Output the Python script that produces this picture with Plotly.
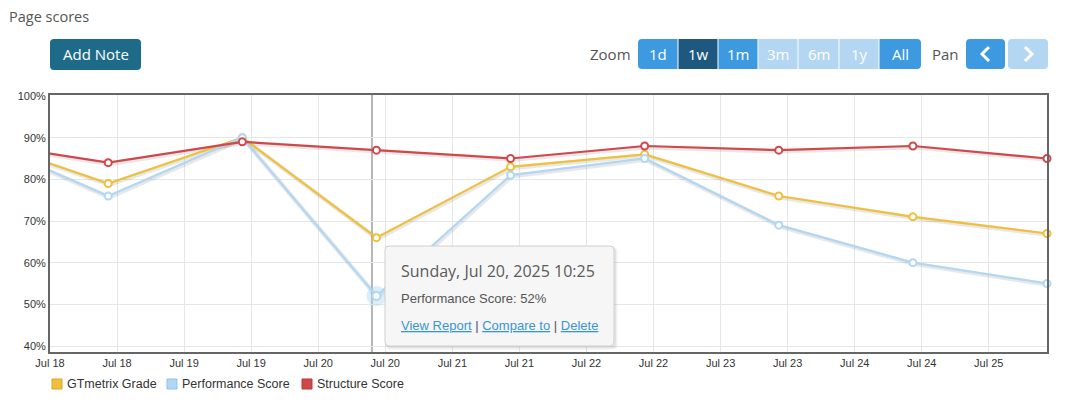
import plotly.graph_objects as go
import pandas as pd

# ---------------- data ----------------
times = ["2025-07-17 10:25", "2025-07-18 10:25", "2025-07-19 10:25", "2025-07-20 10:25",
         "2025-07-21 10:25", "2025-07-22 10:25", "2025-07-23 10:25", "2025-07-24 10:25",
         "2025-07-25 10:25"]
gtmetrix_grade = [90, 79, 90, 66, 83, 86, 76, 71, 67]
performance_score = [90, 76, 90, 52, 81, 85, 69, 60, 55]
structure_score = [89, 84, 89, 87, 85, 88, 87, 88, 85]

tick_times = ["2025-07-18 00:00", "2025-07-18 12:00", "2025-07-19 00:00", "2025-07-19 12:00",
              "2025-07-20 00:00", "2025-07-20 12:00", "2025-07-21 00:00", "2025-07-21 12:00",
              "2025-07-22 00:00", "2025-07-22 12:00", "2025-07-23 00:00", "2025-07-23 12:00",
              "2025-07-24 00:00", "2025-07-24 12:00", "2025-07-25 00:00"]
tick_labels = ["Jul 18", "Jul 18", "Jul 19", "Jul 19", "Jul 20", "Jul 20", "Jul 21", "Jul 21",
               "Jul 22", "Jul 22", "Jul 23", "Jul 23", "Jul 24", "Jul 24", "Jul 25"]
y_ticks = [40, 50, 60, 70, 80, 90, 100]
y_tick_labels = ["40%", "50%", "60%", "70%", "80%", "90%", "100%"]

series_names = ["GTmetrix Grade", "Performance Score", "Structure Score"]
hover_index = 3  # Jul 20 point of Performance Score

# ---------------- styles ----------------
C_YEL = "#f0bf3c"
C_BLU = "#b1d7f4"
C_RED = "#d2484a"
colors = [C_YEL, C_BLU, C_RED]
series = [gtmetrix_grade, performance_score, structure_score]

W, H = 1075, 406
PL, PR, PT, PB = 50, 1047, 95, 352
x_range = [pd.Timestamp("2025-07-18 00:00"), pd.Timestamp("2025-07-25 10:25")]
y_range = [38.56, 100.24]
px_per_hour = (PR - PL) / ((x_range[1] - x_range[0]).total_seconds() / 3600)
px_per_unit = (PB - PT) / (y_range[1] - y_range[0])
shift = pd.Timedelta(hours=1.0 / px_per_hour)
x2_range = [x_range[0] - shift, x_range[1] - shift]
y2_range = [y_range[0] + 1.2 / px_per_unit, y_range[1] + 1.2 / px_per_unit]
crosshair_time = pd.Timestamp(times[hover_index]) - pd.Timedelta(minutes=48)

ARIAL = "Arial, Liberation Sans, sans-serif"
OPEN = "Open Sans, sans-serif"


def px(x):
    return (x - PL) / (PR - PL)


def py(y):
    return (PB - y) / (PB - PT)


def rrect(x0, y0, x1, y1, r, tl=True, tr=True, br=True, bl=True):
    a, b, c, d = (r if tl else 0), (r if tr else 0), (r if br else 0), (r if bl else 0)

    def P(x, y):
        return f"{px(x):.5f},{py(y):.5f}"
    s = f"M{P(x0 + a, y0)} L{P(x1 - b, y0)} Q{P(x1, y0)} {P(x1, y0 + b)} "
    s += f"L{P(x1, y1 - c)} Q{P(x1, y1)} {P(x1 - c, y1)} "
    s += f"L{P(x0 + d, y1)} Q{P(x0, y1)} {P(x0, y1 - d)} "
    s += f"L{P(x0, y0 + a)} Q{P(x0, y0)} {P(x0 + a, y0)} Z"
    return s


fig = go.Figure()

# shadows (shifted overlay axes)
for vals in series:
    fig.add_trace(go.Scatter(x=times, y=vals, mode="lines", xaxis="x2", yaxis="y2",
                             line=dict(color="rgba(0,0,0,0.09)", width=4.5),
                             hoverinfo="skip", showlegend=False))

# main series
for name, vals, col in zip(series_names, series, colors):
    fig.add_trace(go.Scatter(x=times, y=vals, mode="lines+markers", name=name,
                             xaxis="x3", yaxis="y3", cliponaxis=False,
                             line=dict(color=col, width=2.2),
                             marker=dict(size=7, color="white", line=dict(color=col, width=2)),
                             showlegend=False))

# hover halo on highlighted point
fig.add_trace(go.Scatter(x=[times[hover_index]], y=[performance_score[hover_index]],
                         mode="markers", xaxis="x3", yaxis="y3", cliponaxis=False,
                         marker=dict(size=20, color="rgba(177,215,244,0.45)"),
                         hoverinfo="skip", showlegend=False))
fig.add_trace(go.Scatter(x=[times[hover_index]], y=[performance_score[hover_index]],
                         mode="markers", xaxis="x3", yaxis="y3", cliponaxis=False,
                         marker=dict(size=8, color="white", line=dict(color=C_BLU, width=2)),
                         hoverinfo="skip", showlegend=False))

shapes = []
annotations = []

# crosshair
shapes.append(dict(type="line", xref="x", yref="paper", x0=crosshair_time, x1=crosshair_time,
                   y0=0, y1=1, line=dict(color="#b5b5b5", width=2), layer="below"))

# title
annotations.append(dict(text="Page scores", xref="paper", yref="paper", x=px(7), y=py(16),
                        xanchor="left", yanchor="middle", showarrow=False,
                        font=dict(family=OPEN, size=14.5, color="#555555")))

# Add Note button
shapes.append(dict(type="path", xref="paper", yref="paper", path=rrect(50, 39, 141, 70, 4),
                   fillcolor="#1d6a89", line=dict(width=0)))
annotations.append(dict(text="Add Note", xref="paper", yref="paper", x=px(95.5), y=py(54.5),
                        xanchor="center", yanchor="middle", showarrow=False,
                        font=dict(family=OPEN, size=15, color="white")))

# Zoom buttons
annotations.append(dict(text="Zoom", xref="paper", yref="paper", x=px(633), y=py(54.5),
                        xanchor="right", yanchor="middle", showarrow=False,
                        font=dict(family=OPEN, size=15, color="#555555")))
zoom_labels = ["1d", "1w", "1m", "3m", "6m", "1y", "All"]
zoom_edges = [638, 678, 718, 758, 798, 839, 879, 921]
zoom_fill = ["#3d9ae0", "#1e587e", "#3d9ae0", "#b3d6f2", "#b3d6f2", "#b3d6f2", "#3d9ae0"]
for i, lab in enumerate(zoom_labels):
    x0 = zoom_edges[i] + (0 if i == 0 else 0.5)
    x1 = zoom_edges[i + 1] - (0 if i == len(zoom_labels) - 1 else 0.5)
    first, last = i == 0, i == len(zoom_labels) - 1
    shapes.append(dict(type="path", xref="paper", yref="paper",
                       path=rrect(x0, 39, x1, 69, 4, tl=first, bl=first, tr=last, br=last),
                       fillcolor=zoom_fill[i], line=dict(width=0)))
    annotations.append(dict(text=lab, xref="paper", yref="paper", x=px((x0 + x1) / 2), y=py(54.5),
                            xanchor="center", yanchor="middle", showarrow=False,
                            font=dict(family=OPEN, size=15, color="white")))

# Pan buttons
annotations.append(dict(text="Pan", xref="paper", yref="paper", x=px(961), y=py(54.5),
                        xanchor="right", yanchor="middle", showarrow=False,
                        font=dict(family=OPEN, size=15, color="#555555")))
shapes.append(dict(type="path", xref="paper", yref="paper", path=rrect(966, 39, 1005, 69, 4),
                   fillcolor="#3d9ae0", line=dict(width=0)))
shapes.append(dict(type="path", xref="paper", yref="paper", path=rrect(1008, 39, 1048, 69, 4),
                   fillcolor="#b3d6f2", line=dict(width=0)))
shapes.append(dict(type="path", xref="paper", yref="paper",
                   path=f"M{px(989):.5f},{py(47):.5f} L{px(982):.5f},{py(54):.5f} L{px(989):.5f},{py(61):.5f}",
                   line=dict(color="white", width=3)))
shapes.append(dict(type="path", xref="paper", yref="paper",
                   path=f"M{px(1025):.5f},{py(47):.5f} L{px(1032):.5f},{py(54):.5f} L{px(1025):.5f},{py(61):.5f}",
                   line=dict(color="white", width=3)))

# legend (manual)
legend_x = [52, 167, 302]
legend_border = ["#d9a52a", "#8fc0e8", "#b83436"]
for name, col, bc, lx in zip(series_names, colors, legend_border, legend_x):
    shapes.append(dict(type="rect", xref="paper", yref="paper", x0=px(lx), x1=px(lx + 10),
                       y0=py(379), y1=py(389), fillcolor=col, line=dict(color=bc, width=1)))
    annotations.append(dict(text=name, xref="paper", yref="paper", x=px(lx + 13), y=py(384),
                            xanchor="left", yanchor="middle", showarrow=False,
                            font=dict(family=ARIAL, size=12.5, color="#333333")))

# tooltip
shapes.append(dict(type="path", xref="paper", yref="paper", path=rrect(387, 248, 616, 348, 4),
                   fillcolor="rgba(0,0,0,0.06)", line=dict(color="rgba(0,0,0,0.06)", width=3)))
shapes.append(dict(type="path", xref="paper", yref="paper", path=rrect(385, 246, 614, 346, 4),
                   fillcolor="#f6f6f6", line=dict(color="#cfcfcf", width=1)))
annotations.append(dict(text="Sunday, Jul 20, 2025 10:25", xref="paper", yref="paper",
                        x=px(399), y=py(271), xanchor="left", yanchor="middle", showarrow=False,
                        font=dict(family=OPEN, size=16, color="#5a5a5a")))
annotations.append(dict(text=f"{series_names[1]}: {performance_score[hover_index]}%",
                        xref="paper", yref="paper",
                        x=px(399), y=py(298), xanchor="left", yanchor="middle", showarrow=False,
                        font=dict(family=ARIAL, size=13, color="#555555")))
annotations.append(dict(text="<u>View Report</u> <span style='color:#555'>|</span> <u>Compare to</u> "
                             "<span style='color:#555'>|</span> <u>Delete</u>",
                        xref="paper", yref="paper",
                        x=px(399), y=py(325), xanchor="left", yanchor="middle", showarrow=False,
                        font=dict(family=ARIAL, size=13, color="#3a95d8")))

axis_common = dict(showline=True, linecolor="#666666", linewidth=2, mirror=True,
                   gridcolor="#e6e6e6", gridwidth=1, zeroline=False, ticks="",
                   tickfont=dict(family=ARIAL, size=11, color="#333333"))

fig.update_layout(
    width=W, height=H,
    margin=dict(l=PL, r=W - PR, t=PT, b=H - PB),
    paper_bgcolor="white", plot_bgcolor="white",
    showlegend=False,
    xaxis=dict(type="date", range=x_range, tickvals=tick_times, ticktext=tick_labels,
               showgrid=True, **axis_common),
    yaxis=dict(range=y_range, tickvals=y_ticks, ticktext=y_tick_labels, showgrid=True, **axis_common),
    xaxis2=dict(type="date", range=x2_range, overlaying="x", visible=False),
    yaxis2=dict(range=y2_range, overlaying="y", visible=False),
    xaxis3=dict(type="date", range=x_range, overlaying="x", visible=False),
    yaxis3=dict(range=y_range, overlaying="y", visible=False),
    shapes=shapes, annotations=annotations,
    hovermode=False,
)

fig.write_html("out.html")
